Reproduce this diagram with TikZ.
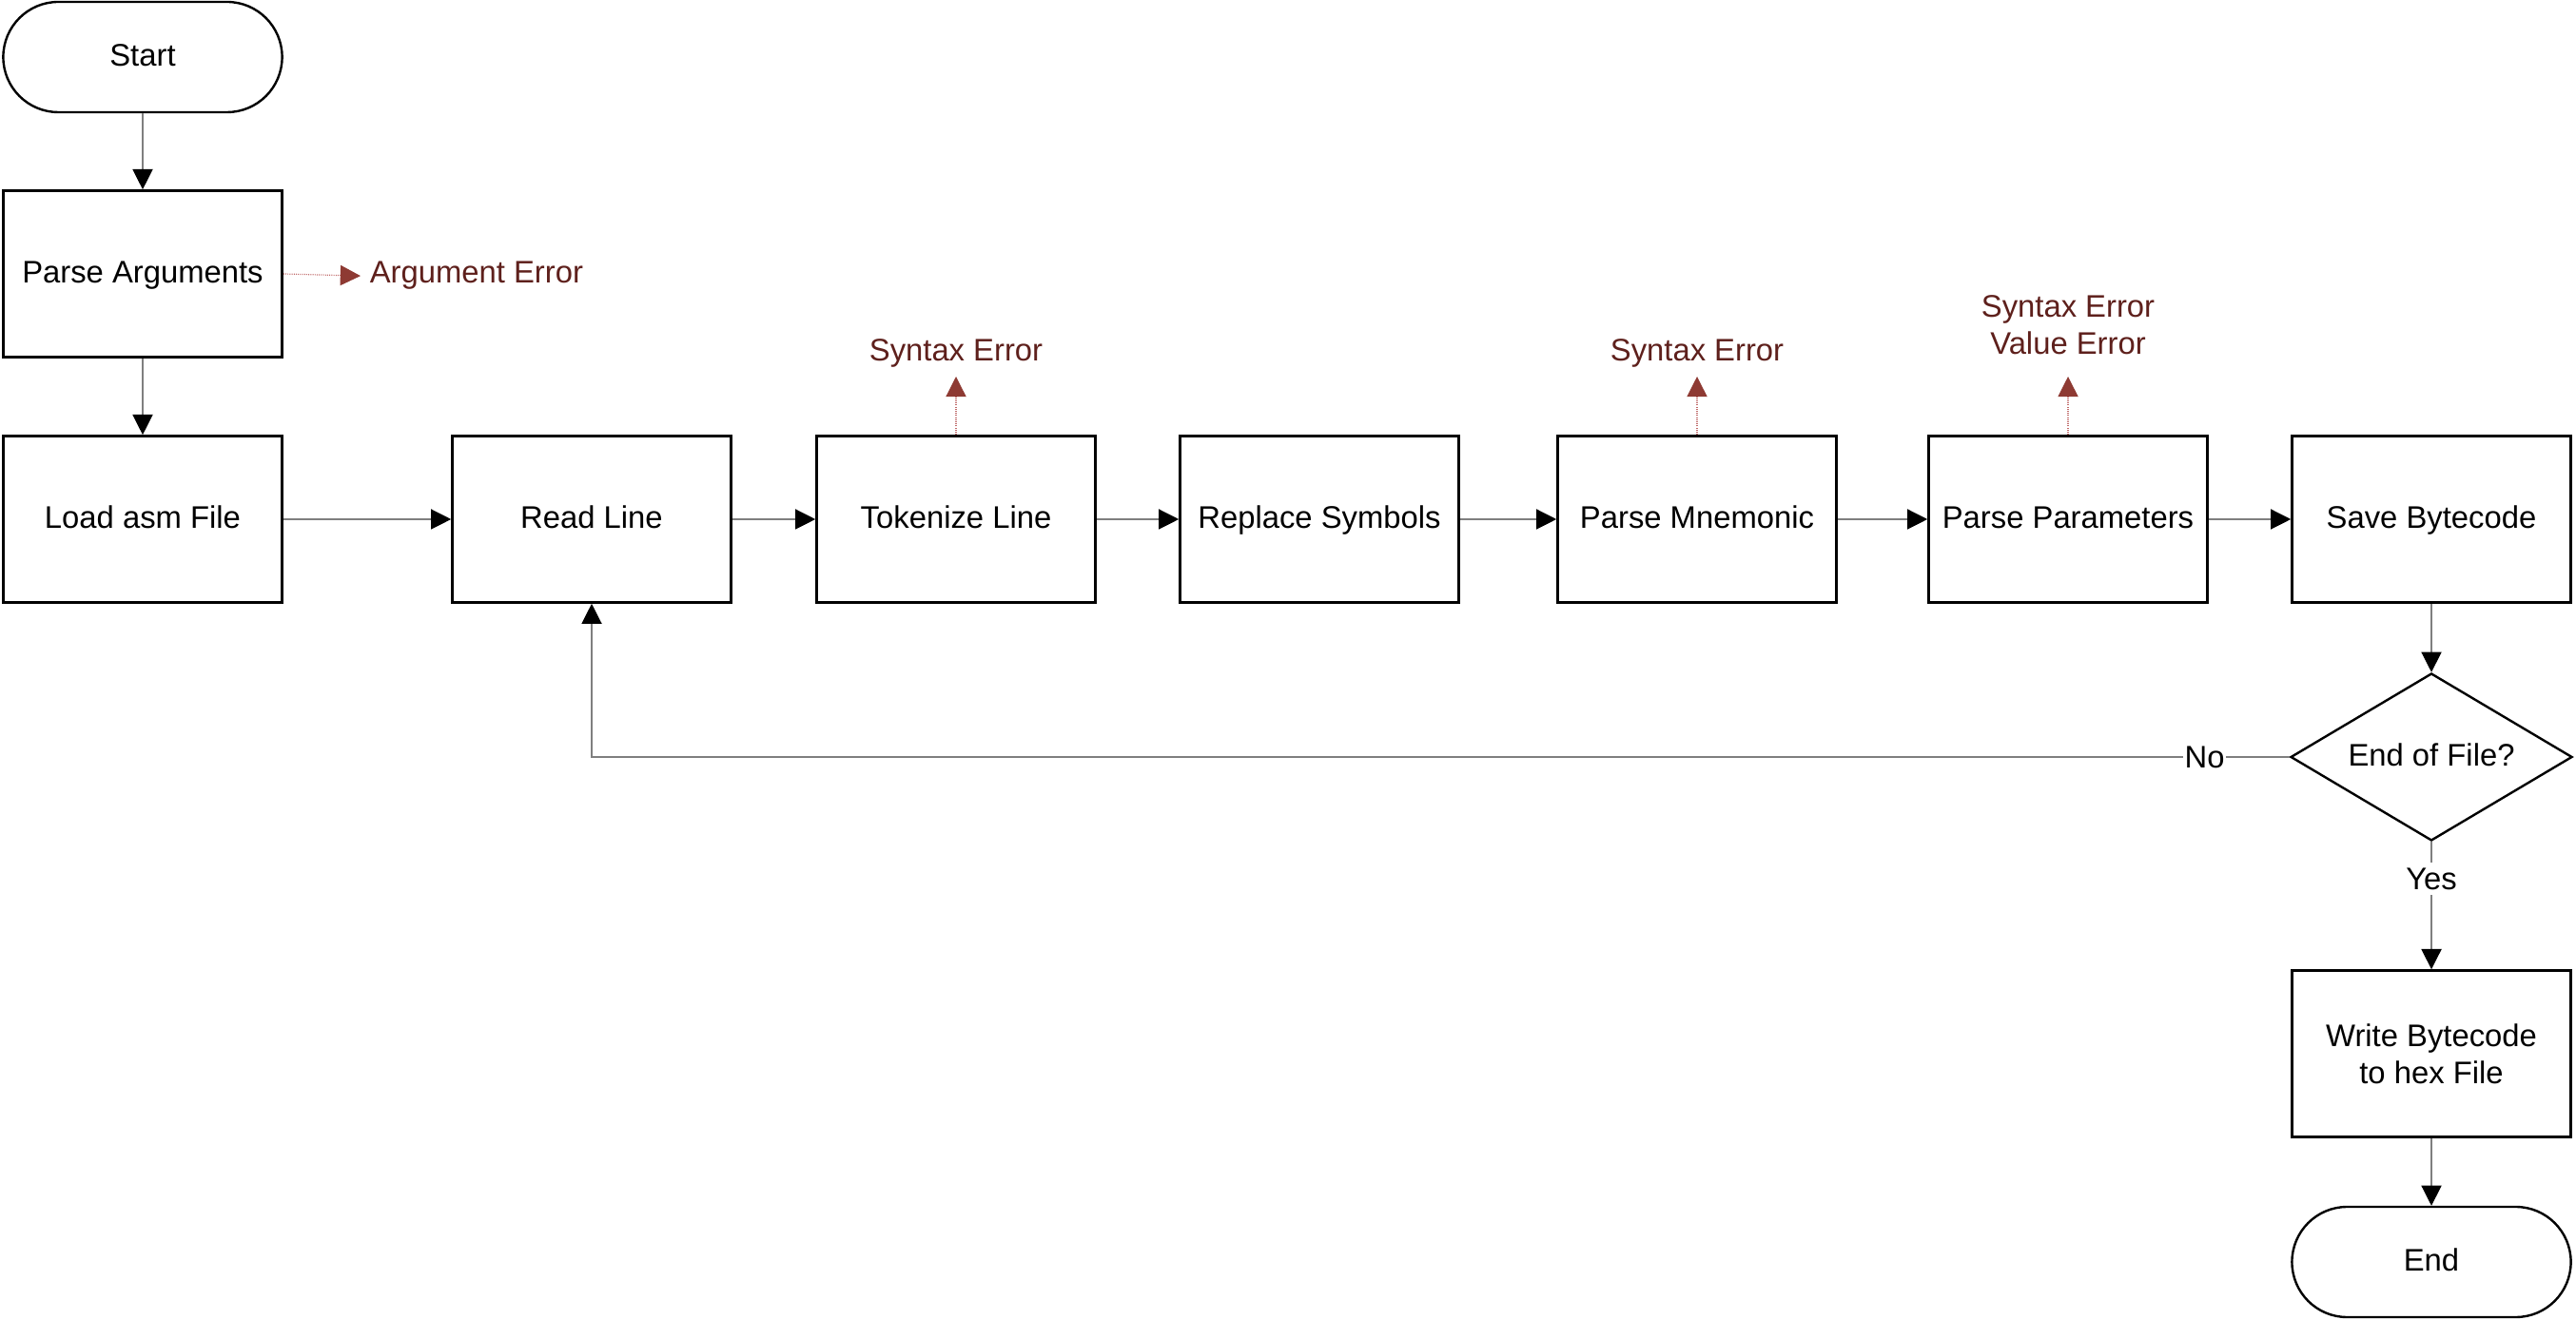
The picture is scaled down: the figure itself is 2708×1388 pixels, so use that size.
\documentclass[tikz,border=0pt]{standalone}
\usepackage{fontspec}
\setmainfont{Liberation Sans}
\usetikzlibrary{arrows.meta,shapes.geometric}
\definecolor{errtext}{HTML}{5E201C}
\definecolor{errtip}{HTML}{8E3A33}
\definecolor{errline}{HTML}{C06A6A}
\definecolor{conn}{HTML}{7F7F7F}
\begin{document}
\begin{tikzpicture}[x=0.25pt,y=-0.25pt,
  font=\fontsize{8.2}{9.8}\selectfont,
  boxbase/.style={draw=black,line width=0.6pt,minimum width=73.3pt,minimum height=43.8pt,inner sep=0pt,align=center},
  box/.style={boxbase,text height=6.9pt,text depth=2pt},
  term/.style={box,rounded corners=14.5pt,minimum height=29pt},
  dec/.style={diamond,aspect=1.68,draw=black,line width=0.6pt,minimum width=74pt,minimum height=44pt,inner sep=0pt,text height=6.9pt,text depth=2pt},
  conn/.style={draw=conn,line width=0.3pt,-{Triangle[length=5.3pt,width=5.3pt,color=black]}},
  err/.style={text=errtext,inner sep=2.25pt,align=center},
  errarrow/.style={draw=errline,line width=0.3pt,dash pattern=on 0.25pt off 0.3pt,-{Triangle[length=5.3pt,width=5.3pt,color=errtip]}},
  lbl/.style={fill=white,inner xsep=0.4pt,inner ysep=1.5pt}]
\useasboundingbox (0,0) rectangle (2708,1388);

% main column
\node[term] (start) at (150,60) {Start};
\node[box] (parse) at (150,288) {Parse Arguments};
\node[box] (load) at (150,546) {Load asm File};

% row
\node[box] (read) at (622,546) {Read Line};
\node[box] (tok) at (1005,546) {Tokenize Line};
\node[box] (rep) at (1387,546) {Replace Symbols};
\node[box] (mne) at (1784,546) {Parse Mnemonic};
\node[box] (par) at (2174,546) {Parse Parameters};
\node[box] (save) at (2556,546) {Save Bytecode};

% right column
\node[dec] (eof) at (2556,796) {End of File?};
\node[boxbase] (write) at (2556,1108) {Write Bytecode\\to hex File};
\node[term] (end) at (2556,1327) {End};

% error nodes
\node[err,anchor=base west] (argerr) at (379,298) {Argument Error};
\node[err,anchor=south] (tokerr) at (1005,396) {Syntax Error};
\node[err,anchor=south] (mneerr) at (1784,396) {Syntax Error};
\node[err,anchor=south] (parerr) at (2174,396) {Syntax Error\\Value Error\rule[-3.3pt]{0pt}{1pt}};

% connectors
\draw[conn] (start) -- (parse);
\draw[conn] (parse) -- (load);
\draw[conn] (load) -- (read);
\draw[conn] (read) -- (tok);
\draw[conn] (tok) -- (rep);
\draw[conn] (rep) -- (mne);
\draw[conn] (mne) -- (par);
\draw[conn] (par) -- (save);
\draw[conn] (save) -- (eof);
\draw[conn] (eof.south) -- node[lbl,pos=0.29] {Yes} (write.north);
\draw[conn] (write) -- (end);
\draw[conn] (eof.west) -| node[lbl,pos=0.025] {No} (read.south);

% error arrows
\draw[errarrow] (parse.east) -- (argerr.west);
\draw[errarrow] (tok.north) -- (tokerr.south);
\draw[errarrow] (mne.north) -- (mneerr.south);
\draw[errarrow] (par.north) -- (parerr.south);
\end{tikzpicture}
\end{document}
